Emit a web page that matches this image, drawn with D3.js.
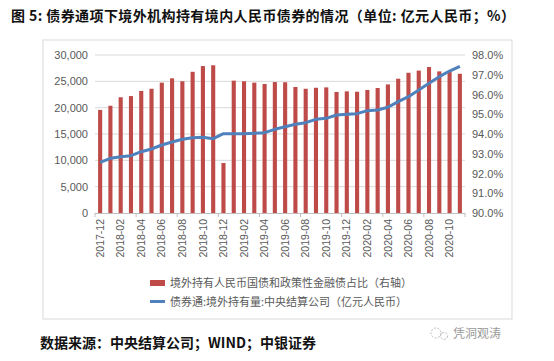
<!DOCTYPE html>
<html lang="zh">
<head>
<meta charset="UTF-8">
<script src="https://d3js.org/d3.v7.min.js"></script>
<style>
  body { margin: 0; background: #fff; }
  .tick text { fill: #595959; font-family: "Liberation Sans", Arial, sans-serif; }
</style>
</head>
<body>
<script>
// months on the category axis
const months = [
  "2017-12","2018-01","2018-02","2018-03","2018-04","2018-05","2018-06","2018-07",
  "2018-08","2018-09","2018-10","2018-11","2018-12","2019-01","2019-02","2019-03",
  "2019-04","2019-05","2019-06","2019-07","2019-08","2019-09","2019-10","2019-11",
  "2019-12","2020-01","2020-02","2020-03","2020-04","2020-05","2020-06","2020-07",
  "2020-08","2020-09","2020-10","2020-11"
];
// share of government + policy bank bonds held by foreigners (%, right axis)
const shareVals = [
  95.22, 95.43, 95.86, 95.92, 96.18, 96.29, 96.60, 96.82,
  96.67, 97.15, 97.44, 97.48, 92.53, 96.70, 96.67, 96.60,
  96.53, 96.63, 96.62, 96.38, 96.29, 96.34, 96.36, 96.13,
  96.16, 96.14, 96.23, 96.33, 96.51, 96.80, 97.10, 97.21,
  97.39, 97.17, 97.15, 97.05
];
// bond connect foreign holdings at CCDC (100m RMB, left axis)
const holdVals = [
  9600, 10380, 10690, 10880, 11640, 12150, 12910, 13480,
  13990, 14300, 14370, 14110, 15060, 15060, 15060, 15150,
  15250, 15890, 16390, 16840, 17150, 17790, 17970, 18610,
  18730, 18860, 19430, 19560, 20070, 21140, 22090, 23350,
  24620, 25890, 26960, 27850
];
const leftTicks = [0, 5000, 10000, 15000, 20000, 25000, 30000];
const rightTicks = [90, 91, 92, 93, 94, 95, 96, 97, 98];

const W = 554, H = 361;
const svg = d3.select("body").append("svg").attr("width", W).attr("height", H);

// title
svg.append("text")
  .attr("x", 11).attr("y", 21)
  .attr("font-family", "Noto Sans CJK SC").attr("font-weight", "bold")
  .attr("font-size", 14).attr("fill", "#111")
  .attr("textLength", 504)
  .text("图 5: 债券通项下境外机构持有境内人民币债券的情况（单位: 亿元人民币；%）");

// chart frame
svg.append("rect")
  .attr("x", 43).attr("y", 40).attr("width", 469).attr("height", 279)
  .attr("fill", "none").attr("stroke", "#d9d9d9");

const x = d3.scaleBand().domain(months).range([95, 465]).paddingInner(0.6).paddingOuter(0.3);
const yL = d3.scaleLinear().domain([0, 30000]).range([213, 55]);
const yR = d3.scaleLinear().domain([90, 98]).range([213, 55]);

// gridlines
svg.append("g").selectAll("line")
  .data(leftTicks.slice(1))
  .join("line")
  .attr("x1", 95).attr("x2", 465)
  .attr("y1", d => yL(d)).attr("y2", d => yL(d))
  .attr("stroke", "#d9d9d9").attr("stroke-width", 1);

// left axis
const gL = svg.append("g").attr("transform", "translate(88,0)")
  .call(d3.axisLeft(yL).tickValues(leftTicks).tickSize(0).tickPadding(0)
    .tickFormat(d3.format(",")));
gL.select(".domain").remove();
gL.selectAll("text").attr("font-size", 11);

// right axis
const gR = svg.append("g").attr("transform", "translate(472,0)")
  .call(d3.axisRight(yR).tickValues(rightTicks).tickSize(0).tickPadding(0)
    .tickFormat(d => d.toFixed(1) + "%"));
gR.select(".domain").remove();
gR.selectAll("text").attr("font-size", 11);

// bars
svg.append("g").selectAll("rect")
  .data(months)
  .join("rect")
  .attr("x", d => x(d))
  .attr("width", x.bandwidth())
  .attr("y", (d, i) => yR(shareVals[i]))
  .attr("height", (d, i) => yR(90) - yR(shareVals[i]))
  .attr("fill", "#BE4B48");

// baseline
svg.append("line")
  .attr("x1", 95).attr("x2", 465).attr("y1", 213.5).attr("y2", 213.5)
  .attr("stroke", "#bfbfbf");

// x axis
const step = x.step();
const gX = svg.append("g").attr("transform", "translate(0,214)")
  .call(d3.axisBottom(x).tickValues(months.filter((d, i) => i % 2 === 0)).tickSize(0).tickPadding(0));
gX.select(".domain").remove();
gX.selectAll("text")
  .attr("font-size", 10.5)
  .attr("text-anchor", "end")
  .attr("dy", "0.35em")
  .attr("transform", "translate(0,5) rotate(-90)")
  .attr("y", 0).attr("x", 0);

// x tick marks every 4 months
svg.append("g").selectAll("line")
  .data(d3.range(0, months.length + 1, 4))
  .join("line")
  .attr("x1", i => 95 + i * step).attr("x2", i => 95 + i * step)
  .attr("y1", 213).attr("y2", 217)
  .attr("stroke", "#bfbfbf");

// line
svg.append("path")
  .datum(holdVals)
  .attr("fill", "none")
  .attr("stroke", "#4F81BD")
  .attr("stroke-width", 3)
  .attr("stroke-linejoin", "round")
  .attr("d", d3.line().x((d, i) => x(months[i]) + x.bandwidth() / 2).y(d => yL(d)));

// legend
const lg = svg.append("g").attr("font-family", "Noto Sans CJK SC").attr("font-size", 11).attr("fill", "#595959");
lg.append("rect").attr("x", 150).attr("y", 280).attr("width", 15).attr("height", 6).attr("fill", "#BE4B48");
lg.append("text").attr("x", 170).attr("y", 287).text("境外持有人民币国债和政策性金融债占比（右轴）");
lg.append("line").attr("x1", 150).attr("x2", 165).attr("y1", 301.5).attr("y2", 301.5)
  .attr("stroke", "#4F81BD").attr("stroke-width", 3);
lg.append("text").attr("x", 170).attr("y", 306).text("债券通:境外持有量:中央结算公司（亿元人民币）");

// source
svg.append("text")
  .attr("x", 40).attr("y", 348)
  .attr("font-family", "Noto Sans CJK SC").attr("font-weight", "bold")
  .attr("font-size", 14).attr("fill", "#111")
  .text("数据来源：中央结算公司；WIND；中银证券");

// watermark
svg.append("text")
  .attr("x", 453).attr("y", 338)
  .attr("font-family", "Noto Sans CJK SC")
  .attr("font-size", 12).attr("fill", "#9a9a9a")
  .text("凭洞观涛");
svg.append("circle").attr("cx", 436).attr("cy", 333).attr("r", 5)
  .attr("fill", "none").attr("stroke", "#bbb").attr("stroke-dasharray", "2,1.5");
svg.append("circle").attr("cx", 444).attr("cy", 336).attr("r", 3.5)
  .attr("fill", "none").attr("stroke", "#bbb").attr("stroke-dasharray", "2,1.5");
</script>
</body>
</html>
